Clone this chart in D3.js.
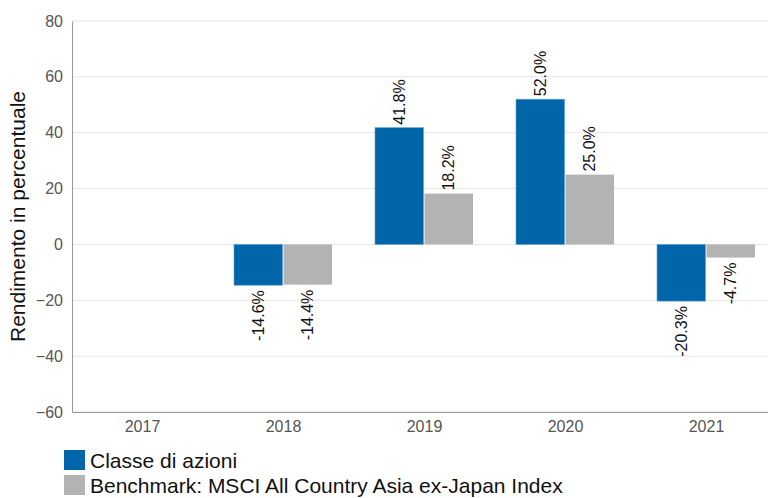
<!DOCTYPE html>
<html>
<head>
<meta charset="utf-8">
<script src="https://cdn.jsdelivr.net/npm/d3@7"></script>
<style>
  body { margin: 0; background: #fff; }
  svg { display: block; font-family: "Liberation Sans", Arial, sans-serif; }
</style>
</head>
<body>
<svg id="chart" width="768" height="498"></svg>
<script>
const years = ["2017", "2018", "2019", "2020", "2021"];
const fundReturns = [null, -14.6, 41.8, 52.0, -20.3];
const benchReturns = [null, -14.4, 18.2, 25.0, -4.7];
const yTicks = [-60, -40, -20, 0, 20, 40, 60, 80];
const seriesNames = ["Classe di azioni", "Benchmark: MSCI All Country Asia ex-Japan Index"];
const seriesColors = ["#0066a9", "#b3b3b3"];

const svg = d3.select("#chart");
const margin = { left: 72, top: 21 };
const plotW = 705, plotH = 391;

const x = d3.scaleBand().domain(years).range([margin.left, margin.left + plotW]);
const y = d3.scaleLinear().domain([-60, 80]).range([margin.top + plotH, margin.top]);
const inner = d3.scaleBand().domain([0, 1]).range([21, x.bandwidth() - 21]);

// gridlines
svg.append("g")
  .selectAll("line")
  .data(yTicks)
  .join("line")
  .attr("x1", margin.left).attr("x2", 768)
  .attr("y1", (d) => y(d)).attr("y2", (d) => y(d))
  .attr("stroke", "#e6e6e6");

// axes
const yAxis = svg.append("g")
  .attr("transform", `translate(${margin.left},0)`)
  .call(d3.axisLeft(y).tickValues(yTicks).tickSize(0).tickPadding(9));
yAxis.select(".domain").attr("stroke", "#999");
yAxis.selectAll("text").attr("font-size", 16).attr("fill", "#555").attr("font-family", null);

const xAxis = svg.append("g")
  .attr("transform", `translate(0,${margin.top + plotH})`)
  .call(d3.axisBottom(x).tickSize(0).tickPadding(9));
xAxis.select(".domain").attr("stroke", "#999");
xAxis.selectAll("text").attr("font-size", 16).attr("fill", "#555").attr("font-family", null);

// bars
const rows = years.map((yr, i) => ({ yr, vals: [fundReturns[i], benchReturns[i]] }));
const groups = svg.append("g")
  .selectAll("g")
  .data(rows)
  .join("g")
  .attr("transform", (d) => `translate(${x(d.yr)},0)`);

const cells = groups.selectAll("g")
  .data((d) => d.vals.map((v, s) => ({ v, s })).filter((c) => c.v !== null))
  .join("g");

cells.append("rect")
  .attr("x", (c) => inner(c.s))
  .attr("width", inner.bandwidth() - 1)
  .attr("y", (c) => y(Math.max(0, c.v)))
  .attr("height", (c) => Math.abs(y(c.v) - y(0)))
  .attr("fill", (c) => seriesColors[c.s])
  .attr("stroke", (c) => (c.s === 0 ? "#5d9fd3" : "none"))
  .attr("stroke-width", 0.6);

cells.append("text")
  .attr("transform", (c) => {
    const cx = inner(c.s) + inner.bandwidth() / 2 + 5;
    const cy = c.v >= 0 ? y(c.v) - 3 : y(c.v) + 5;
    return `translate(${cx},${cy}) rotate(-90)`;
  })
  .attr("text-anchor", (c) => (c.v >= 0 ? "start" : "end"))
  .attr("font-size", 16)
  .attr("fill", "#111")
  .text((c) => c.v.toFixed(1) + "%");

// y axis title
svg.append("text")
  .attr("transform", `translate(25,${margin.top + plotH / 2}) rotate(-90)`)
  .attr("text-anchor", "middle")
  .attr("font-size", 21)
  .attr("fill", "#111")
  .text("Rendimento in percentuale");

// legend
const legend = svg.append("g")
  .selectAll("g")
  .data(seriesNames)
  .join("g")
  .attr("transform", (d, i) => `translate(64,${450 + i * 25})`);
legend.append("rect")
  .attr("width", 21).attr("height", 20)
  .attr("fill", (d, i) => seriesColors[i]);
legend.append("text")
  .attr("x", 26).attr("y", 18)
  .attr("font-size", 21)
  .attr("fill", "#111")
  .text((d) => d);
</script>
</body>
</html>
